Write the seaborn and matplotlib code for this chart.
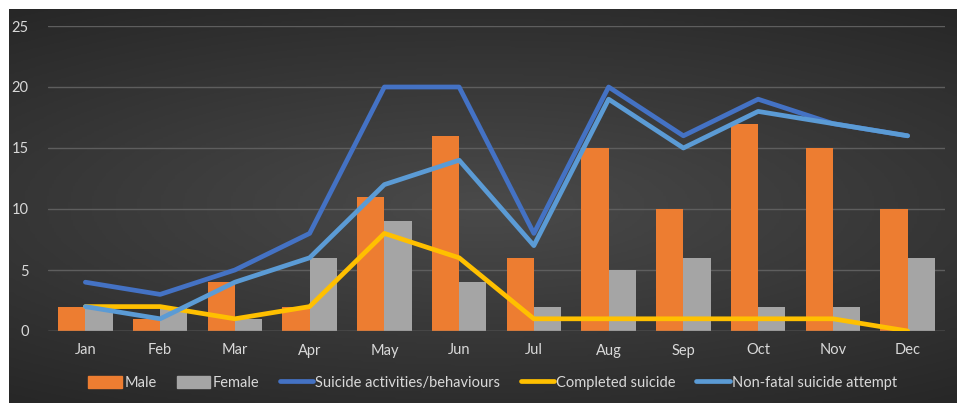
import numpy as np
import pandas as pd
import seaborn as sns
import matplotlib.pyplot as plt
from matplotlib.patches import Patch
from matplotlib.lines import Line2D

months = ['Jan', 'Feb', 'Mar', 'Apr', 'May', 'Jun',
          'Jul', 'Aug', 'Sep', 'Oct', 'Nov', 'Dec']
male = [2, 1, 4, 2, 11, 16, 6, 15, 10, 17, 15, 10]
female = [2, 2, 1, 6, 9, 4, 2, 5, 6, 2, 2, 6]
suicide_activities = [4, 3, 5, 8, 20, 20, 8, 20, 16, 19, 17, 16]
completed = [2, 2, 1, 2, 8, 6, 1, 1, 1, 1, 1, 0]
non_fatal = [2, 1, 4, 6, 12, 14, 7, 19, 15, 18, 17, 16]

bars = pd.DataFrame({'month': months * 2,
                     'count': male + female,
                     'sex': ['Male'] * 12 + ['Female'] * 12})

sns.set_style("dark")
plt.rcParams['font.family'] = ['Lato', 'DejaVu Sans']

fig = plt.figure(figsize=(9.57, 4.03), dpi=100)
fig.patch.set_facecolor('white')

# dark gradient background like the excel style
bg = fig.add_axes([9 / 957, 0, 1 - 9 / 957, 1 - 9 / 403])
xx = np.linspace(-1, 1, 400)
yy = np.linspace(-1, 1, 200)
X, Y = np.meshgrid(xx, yy)
grad = 1 - np.sqrt((X * 0.8) ** 2 + (Y * 1.1) ** 2)
bg.imshow(grad, cmap=sns.blend_palette(['#262626', '#4a4a4a'], as_cmap=True),
          aspect='auto', extent=[0, 1, 0, 1], vmin=-0.4, vmax=1)
bg.set_axis_off()

ax = fig.add_axes([48 / 957, 1 - 331 / 403, 897 / 957, (331 - 26) / 403])
ax.set_facecolor('none')

sns.barplot(data=bars, x='month', y='count', hue='sex',
            palette={'Male': '#ED7D31', 'Female': '#A5A5A5'},
            width=0.73, gap=0, ax=ax, legend=False, saturation=1, linewidth=0)

xs = np.arange(len(months))
for vals, col in [(suicide_activities, '#4472C4'),
                  (completed, '#FFC000'),
                  (non_fatal, '#5B9BD5')]:
    sns.lineplot(x=xs, y=vals, color=col, lw=3.4, ax=ax, zorder=5)

ax.set_xlim(-0.5, 11.5)
ax.set_ylim(0, 25)
ax.set_yticks([0, 5, 10, 15, 20, 25])
ax.yaxis.grid(True, color='#5e5e5e', lw=1)
ax.set_axisbelow(True)
for s in ax.spines.values():
    s.set_visible(False)
ax.axhline(0, color='#6a6a6a', lw=1, zorder=1)
ax.set_xlabel('')
ax.set_ylabel('')
ax.tick_params(axis='both', colors='#d9d9d9', labelsize=10.5, length=0)
ax.tick_params(axis='x', pad=9)
ax.tick_params(axis='y', pad=14)

handles = [Patch(color='#ED7D31', label='Male'),
           Patch(color='#A5A5A5', label='Female'),
           Line2D([], [], color='#4472C4', lw=3.4, label='Suicide activities/behaviours'),
           Line2D([], [], color='#FFC000', lw=3.4, label='Completed suicide'),
           Line2D([], [], color='#5B9BD5', lw=3.4, label='Non-fatal suicide attempt')]
leg = fig.legend(handles=handles, loc='center', bbox_to_anchor=(0.515, 1 - 383 / 403),
                 ncol=5, frameon=False, fontsize=10.5, handlelength=2.3,
                 handleheight=0.9, handletextpad=0.15, columnspacing=1.4)
for t in leg.get_texts():
    t.set_color('#d9d9d9')

fig.savefig('out.png', dpi=100, facecolor=fig.get_facecolor())
